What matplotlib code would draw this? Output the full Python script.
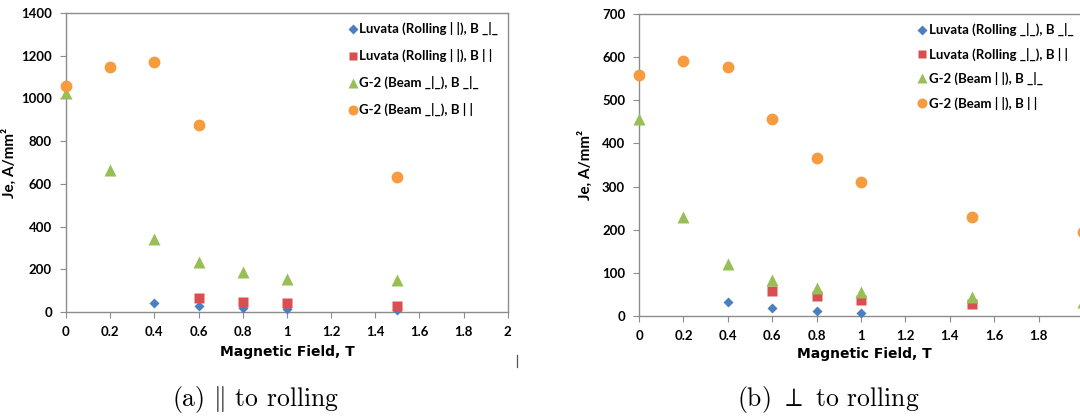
import numpy as np
import matplotlib
matplotlib.use('Agg')
import matplotlib.pyplot as plt
from matplotlib.lines import Line2D

plt.rcParams['font.family'] = ['Lato', 'DejaVu Sans']
plt.rcParams['mathtext.fontset'] = 'cm'

# ── data (a) parallel to rolling ─────────────────────────────
a_lu_perp_x = [0.4, 0.6, 0.8, 1.0, 1.5]
a_lu_perp_y = [41, 28, 20, 12, 8]
a_lu_par_x = [0.6, 0.8, 1.0, 1.5]
a_lu_par_y = [64, 47, 41, 30]
a_g2_perp_x = [0, 0.2, 0.4, 0.6, 0.8, 1.0, 1.5]
a_g2_perp_y = [1025, 665, 340, 235, 185, 155, 152]
a_g2_par_x = [0, 0.2, 0.4, 0.6, 1.5]
a_g2_par_y = [1059, 1148, 1172, 873, 634]

# ── data (b) perpendicular to rolling ────────────────────────
b_lu_perp_x = [0.4, 0.6, 0.8, 1.0]
b_lu_perp_y = [33, 19, 12, 8]
b_lu_par_x = [0.6, 0.8, 1.0, 1.5]
b_lu_par_y = [58, 46, 37, 28]
b_g2_perp_x = [0, 0.2, 0.4, 0.6, 0.8, 1.0, 1.5, 2.0]
b_g2_perp_y = [457, 229, 121, 83, 65, 55, 44, 33]
b_g2_par_x = [0, 0.2, 0.4, 0.6, 0.8, 1.0, 1.5, 2.0]
b_g2_par_y = [559, 591, 576, 457, 366, 311, 229, 195]

labels_a = ['Luvata (Rolling | |), B _|_', 'Luvata (Rolling | |), B | |',
            'G-2 (Beam _|_), B _|_', 'G-2 (Beam _|_), B | |']
labels_b = ['Luvata (Rolling _|_), B _|_', 'Luvata (Rolling _|_), B | |',
            'G-2 (Beam | |), B _|_', 'G-2 (Beam | |), B | |']

xticks = [0, 0.2, 0.4, 0.6, 0.8, 1, 1.2, 1.4, 1.6, 1.8, 2]
xticklabels_a = ['0', '0.2', '0.4', '0.6', '0.8', '1', '1.2', '1.4', '1.6', '1.8', '2']
# the "2" of panel (b) falls outside the cropped picture
xticklabels_b = ['0', '0.2', '0.4', '0.6', '0.8', '1', '1.2', '1.4', '1.6', '1.8', '']

BLUE = '#4A7FC1'
RED = '#D94F4F'
GREEN = '#98BE56'
ORANGE = '#F79B3F'
SPINE = '#8C8C8C'

styles = [(BLUE, 'D', 5.5), (RED, 's', 7.5), (GREEN, '^', 8), (ORANGE, 'o', 8.5)]


def draw_panel(ax, series, labels, ymax, ystep, xlabels, leg_space, ylab_x):
    for (xs, ys), (c, m, ms), lab in zip(series, styles, labels):
        ax.plot(xs, ys, linestyle='none', marker=m, color=c, ms=ms,
                mec='none', label=lab, clip_on=False, zorder=3)
    ax.set_xlim(0, 2)
    ax.set_ylim(0, ymax)
    ax.set_xticks(xticks)
    ax.set_xticklabels(xlabels)
    ax.set_yticks(np.arange(0, ymax + 1, ystep))
    for s in ax.spines.values():
        s.set_color(SPINE)
        s.set_linewidth(1.0)
    ax.tick_params(axis='both', direction='out', length=4, color=SPINE,
                   labelsize=9.5, pad=6)
    for t in ax.get_xticklabels() + ax.get_yticklabels():
        t.set_fontweight('bold')
    ax.set_ylabel('Je, A/mm²', fontsize=11, fontweight='bold')
    ax.yaxis.set_label_coords(ylab_x, 0.5)
    leg = ax.legend(loc='upper right', frameon=False, fontsize=9.5,
                    handletextpad=0.0, handlelength=1.0, labelspacing=leg_space,
                    borderaxespad=0.3, markerscale=0.85)
    for t in leg.get_texts():
        t.set_fontweight('bold')


fig = plt.figure(figsize=(10.8, 4.16), dpi=100)

ax1 = fig.add_axes([0.0611, 0.25, 0.409, 0.719])
draw_panel(ax1, [(a_lu_perp_x, a_lu_perp_y), (a_lu_par_x, a_lu_par_y),
                 (a_g2_perp_x, a_g2_perp_y), (a_g2_par_x, a_g2_par_y)],
           labels_a, 1400, 200, xticklabels_a, 1.05, -0.111)

ax2 = fig.add_axes([0.5917, 0.2404, 0.411, 0.726])
draw_panel(ax2, [(b_lu_perp_x, b_lu_perp_y), (b_lu_par_x, b_lu_par_y),
                 (b_g2_perp_x, b_g2_perp_y), (b_g2_par_x, b_g2_par_y)],
           labels_b, 700, 100, xticklabels_b, 0.85, -0.104)

# x-axis titles and sub-captions
fig.text(0.266, 0.153, 'Magnetic Field, T', ha='center', va='center',
         fontsize=10, fontweight='bold', family='Liberation Sans Narrow')
fig.text(0.800, 0.150, 'Magnetic Field, T', ha='center', va='center',
         fontsize=10, fontweight='bold', family='Liberation Sans Narrow')
fig.text(0.237, 0.040, r'(a) $\|$ to rolling', ha='center', va='center',
         fontsize=18.5, family='cmr10')
fig.text(0.767, 0.040, r'(b) $\perp$ to rolling', ha='center', va='center',
         fontsize=18.5, family='cmr10')
fig.add_artist(Line2D([0.4787, 0.4787], [0.118, 0.147], color='#555555', lw=0.9))

fig.savefig('out.png', dpi=100)
